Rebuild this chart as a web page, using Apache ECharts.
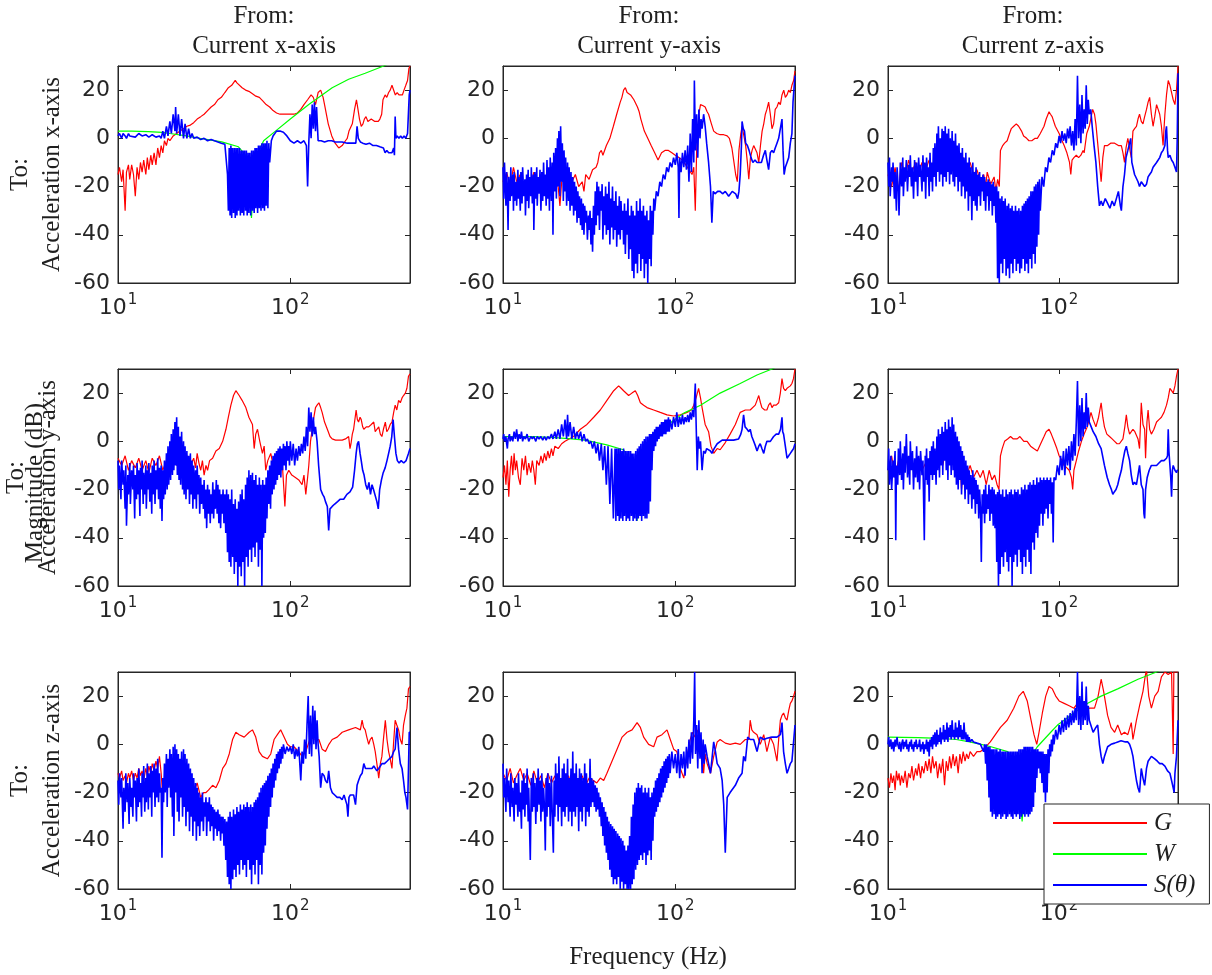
<!DOCTYPE html>
<html>
<head>
<meta charset="utf-8">
<script src="https://cdn.jsdelivr.net/npm/echarts@6/dist/echarts.min.js"></script>
<style>
html,body{margin:0;padding:0;background:#fff;}
#chart{width:1212px;height:975px;}
</style>
</head>
<body>
<div id="chart"></div>
<script>
// ---------- labels ----------
const colTitles = ['From:\nCurrent x-axis', 'From:\nCurrent y-axis', 'From:\nCurrent z-axis'];
const rowLabels = ['To:\nAcceleration x-axis', 'To:\nAcceleration y-axis', 'To:\nAcceleration z-axis'];
const seriesNames = ['G', 'W', 'S(\u03B8)'];
const yLabel = 'Magnitude (dB)';
const xLabel = 'Frequency (Hz)';
const freqMin = 10, freqMax = 495;
const dbMin = -60, dbMax = 30, dbStep = 20;

// ---------- data: [frequency Hz, magnitude dB] ----------
// Row 1, column 1
const g11 = [[10,-15],[10.2,-12],[10.5,-18],[10.7,-13],[11,-30],[11.2,-14],[11.5,-11],[11.7,-17],[12,-11],[12.3,-15],[12.6,-24],[12.9,-12],[13.2,-17],[13.5,-10],[13.8,-14],[14.1,-9],[14.5,-15],[14.8,-8],[15.1,-13],[15.5,-7],[15.8,-11],[16.2,-6],[16.6,-11],[17,-4],[17.4,-8],[17.8,-3],[18.2,-6],[18.6,-1],[19.1,-3],[19.5,0],[20,-1],[20.9,1],[21.9,2],[22.9,3],[24,4],[25.1,5],[26.3,5.5],[27.5,6.5],[28.8,8],[30.2,9],[31.6,10],[33.1,11.5],[34.7,13],[36.3,14],[38,16],[39.8,17],[41.7,19],[43.7,21],[45.7,22],[47.9,24],[49,23],[50.1,22.5],[52.5,21],[55,20],[57.5,19.5],[60.3,18.5],[63.1,17.5],[66.1,17],[69.2,15.5],[72.4,14],[75.9,13],[79.4,11.5],[83.2,10.5],[87.1,10],[91.2,10],[95.5,10],[100,10],[105,10],[110,10.5],[115,12],[120,14],[126,16],[132,18],[136,17],[140,14],[145,19],[150,20],[155,17],[158,14],[166,6],[174,1],[182,-2],[191,-4],[200,-3],[209,-1],[214,0],[219,3],[229,6],[236,12],[242,16],[247,12],[252,8],[258,5],[264,6],[269,8],[275,9],[282,7],[295,8],[309,7],[324,7],[331,8],[339,10],[345,16],[355,18],[363,17],[372,19],[380,20],[389,22],[398,22],[407,18],[417,19],[427,18],[437,18],[447,18],[457,20],[468,22],[479,24],[488,29],[495,30]];
const w11 = [[10,3],[12,3],[15,2.8],[18,2.5],[20,2],[25,1],[30,0],[40,-1.5],[50,-3.5],[55,-7],[58,-20],[59.5,-33],[61,-20],[64,-7],[70,-1],[82,3],[100,8],[128,14],[175,21],[218,24.5],[272,27],[348,30],[400,32]];
const s11 = [[10,1],[10.2,2],[10.5,0],[10.7,2],[11,1],[11.2,0],[11.5,2],[11.7,1],[12,1.5],[12.6,0.5],[13.2,2],[13.8,1],[14.5,1.5],[15.1,0.5],[15.8,1.5],[16.6,0.5],[17.4,1],[17.8,0],[18.2,3],[18.6,0],[19.1,5],[19.5,1],[20,7],[20.4,2],[20.9,10],[21.4,3],[21.6,13],[21.9,2],[22.4,10],[22.9,1],[23.4,8],[24,0],[24.5,6],[25.1,0],[25.7,4],[26.3,0],[26.9,2],[27.5,0],[28.8,0.5],[30.2,-0.5],[31.6,0],[33.1,-1],[34.7,-0.5],[36.3,-1],[38,-1.5],[39.8,-2],[41.7,-2.5],[42.7,-3],[43.2,-15],[43.7,-30],[44.2,-4],[44.7,-32],[45.2,-3],[45.7,-33],[46.2,-4],[46.8,-31],[47.3,-4],[47.9,-33],[48.4,-4],[49,-32],[49.5,-4],[50.1,-30],[50.7,-4],[51.3,-32],[51.9,-5],[52.5,-31],[53.1,-5],[53.7,-32],[54.3,-5],[55,-30],[55.6,-5],[56.2,-32],[56.9,-6],[57.5,-31],[58.2,-6],[58.9,-32],[59.6,-5],[60.3,-30],[61,-5],[61.7,-31],[62.4,-4],[63.1,-29],[63.8,-4],[64.6,-31],[65.3,-3],[66.1,-29],[66.8,-3],[67.6,-30],[68.4,-2],[69.2,-29],[70,-2],[70.8,-30],[71.6,-2],[72.4,-28],[73.2,-1],[74.1,-29],[75,-2],[75.9,-10],[77.6,-1],[79.4,1],[81.3,2],[83.2,3],[87.1,3],[91.2,2.5],[95.5,1],[100,-1],[105,-2],[110,-1],[115,-2],[120,-1],[124,-3],[126,-20],[128,-2],[130,10],[132,0],[134,14],[136,4],[138,15],[140,3],[142,13],[145,-1],[151,-1],[158,-1.5],[166,-1],[174,-1],[182,-1.5],[191,-1.5],[200,-1.5],[214,-2],[229,-2],[240,-2],[244,5],[248,0],[255,-1.5],[263,-2],[275,-2.5],[288,-2],[302,-3],[316,-3],[331,-3.5],[347,-4],[355,-6],[363,-5],[372,-6],[380,-5.5],[389,-6],[398,-4],[402,-7],[406,9],[410,0],[417,1],[427,0],[437,1],[447,0],[457,1],[468,0],[479,2],[490,18],[495,20]];

// Row 1, column 2
const g12 = [[10,-18],[10.5,-14],[11,-20],[11.5,-12],[12,-18],[12.6,-15],[13.2,-22],[13.8,-16],[14.5,-20],[15.1,-14],[15.8,-18],[16.6,-15],[17.4,-20],[18.2,-16],[19.1,-22],[20,-17],[20.9,-20],[21.4,-28],[21.9,-18],[22.9,-16],[24,-14],[25.1,-18],[26.3,-15],[27.5,-20],[28.8,-18],[29.5,-22],[30.2,-15],[31.6,-17],[33.1,-13],[34.7,-12],[35.5,-10],[36.3,-6],[37.2,-5],[38,-7],[39.8,-3],[41.7,0],[43.7,5],[45.7,10],[47.9,15],[49,17],[50.1,20],[51.3,21],[52.5,19],[53.7,19],[55,18],[56.2,17.5],[57.5,16],[60.3,13],[61.7,11],[63.1,8],[66.1,3],[69.2,0],[72.4,-3],[75.9,-6],[79.4,-9],[83.2,-6],[87.1,-5],[91.2,-5],[95.5,-6],[100,-7],[105,-8],[110,-9],[115,-11],[120,-13],[125,-15],[128,-12],[130.6,-30],[133,-5],[137,10],[140,14],[145,13.5],[149,13],[153,11],[156,10],[162,6],[167,3],[174,2],[182,1.5],[191,1.5],[200,1],[206,0],[213,-4],[219,-10],[224,-15],[229,-18],[234,-5],[240,2],[244,5],[250,1],[256,-3],[262,-10],[267,-17],[273,-8],[279,-5],[285,-3],[292,-3],[298,-6],[305,-10],[312,-3],[319,3],[326,6],[333,10],[340,12],[348,15],[356,10],[364,4],[372,6],[380,12],[389,13],[398,15],[407,14],[416,18],[426,20],[435,17],[445,18],[455,20],[465,19],[475,22],[486,24],[495,28]];
const s12 = [[10,-12],[10.1,-25],[10.2,-10],[10.4,-28],[10.5,-14],[10.6,-22],[10.7,-38],[10.8,-16],[11,-26],[11.1,-12],[11.2,-24],[11.4,-15],[11.5,-30],[11.6,-14],[11.7,-26],[11.9,-18],[12,-28],[12.2,-13],[12.3,-25],[12.4,-16],[12.6,-30],[12.7,-14],[12.9,-27],[13,-12],[13.2,-24],[13.4,-17],[13.5,-32],[13.7,-15],[13.8,-26],[14,-13],[14.1,-29],[14.3,-16],[14.5,-24],[14.6,-12],[14.8,-27],[15,-15],[15.1,-38],[15.3,-14],[15.5,-25],[15.7,-12],[15.8,-28],[16,-16],[16.2,-23],[16.4,-13],[16.6,-30],[16.8,-14],[17,-26],[17.2,-10],[17.4,-24],[17.6,-15],[17.8,-28],[18,-9],[18.2,-25],[18.4,-12],[18.6,-30],[18.8,-8],[19.1,-26],[19.3,-10],[19.5,-40],[19.7,-6],[20,-22],[20.2,-4],[20.4,-25],[20.7,0],[20.9,-20],[21.1,3],[21.4,-24],[21.6,5],[21.9,-18],[22.1,-2],[22.4,-26],[22.6,-5],[22.9,-22],[23.1,-8],[23.4,-28],[23.7,-10],[24,-26],[24.2,-12],[24.5,-30],[24.8,-14],[25.1,-28],[25.4,-16],[25.7,-32],[26,-18],[26.3,-30],[26.6,-20],[26.9,-35],[27.2,-22],[27.5,-33],[27.8,-24],[28.2,-36],[28.5,-25],[28.8,-38],[29.2,-27],[29.5,-40],[29.8,-28],[30.2,-35],[30.5,-30],[30.9,-42],[31.3,-32],[31.6,-38],[32,-30],[32.4,-44],[32.7,-33],[33.1,-47],[33.5,-28],[33.9,-40],[34.3,-22],[34.7,-36],[35.1,-18],[35.5,-32],[35.9,-20],[36.3,-38],[36.7,-22],[37.2,-30],[37.6,-19],[38,-42],[38.5,-24],[38.9,-36],[39.4,-20],[39.8,-40],[40.3,-23],[40.7,-38],[41.2,-18],[41.7,-44],[42.2,-25],[42.7,-37],[43.2,-20],[43.7,-42],[44.2,-26],[44.7,-38],[45.2,-22],[45.7,-45],[46.3,-28],[46.8,-40],[47.3,-24],[47.9,-42],[48.4,-26],[49,-38],[49.6,-30],[50.1,-44],[50.7,-27],[51.3,-48],[51.9,-30],[52.5,-40],[53.1,-25],[53.7,-50],[54.3,-32],[55,-46],[55.6,-28],[56.2,-55],[56.9,-30],[57.5,-58],[58.2,-32],[58.9,-52],[59.6,-26],[60.3,-56],[61,-30],[61.7,-48],[62.4,-25],[63.1,-55],[63.8,-30],[64.6,-50],[65.3,-28],[66.1,-58],[66.8,-32],[67.6,-52],[68.4,-30],[69.2,-60],[70,-34],[70.8,-50],[71.6,-28],[72.4,-53],[73.2,-30],[74.1,-40],[75,-25],[75.9,-30],[77.6,-22],[79.4,-24],[81.3,-18],[83.2,-20],[85.1,-15],[87.1,-17],[89.1,-12],[91.2,-14],[93.3,-10],[95.5,-12],[97.7,-8],[100,-11],[102,-6],[104,-12],[105,-33],[106,-8],[108,-14],[110,-6],[112,-12],[114,-5],[116,-13],[118,-3],[120,-18],[122,2],[124,-14],[126,8],[128,-10],[129,24],[131,-5],[133,10],[135,-8],[137,12],[139,0],[141,8],[143,4],[146,10],[149,5],[152,-2],[156,-10],[160,-20],[163,-35],[166,-22],[170,-23],[176,-22],[182,-22],[188,-23],[195,-22],[204,-24],[214,-22],[224,-23],[230,-25],[234,-22],[238,-15],[242,-3],[244,7],[248,4],[252,3],[256,-2],[262,-3],[268,-5],[275,-8],[282,-10],[290,-9],[298,-10],[306,-10],[316,-10],[325,-7],[333,-5],[340,-9],[348,-13],[356,-6],[364,-5],[372,-6],[380,-4],[389,-2],[398,0],[407,4],[416,8],[422,-5],[428,-15],[435,-12],[445,-10],[455,-8],[465,-2],[475,2],[482,15],[490,22],[495,26]];

// Row 1, column 3
const g13 = [[10,-15],[10.5,-20],[11,-12],[11.5,-22],[12,-10],[12.6,-16],[13.2,-9],[13.8,-14],[14.5,-10],[15.1,-15],[15.8,-10],[16.6,-13],[17.4,-9],[18.2,-12],[19.1,-8],[20,-11],[20.9,-5],[21.9,-10],[22.9,-4],[24,-9],[25.1,-6],[26.3,-10],[27.5,-8],[28.8,-12],[30.2,-10],[31.6,-15],[33.1,-13],[34.7,-18],[36.3,-15],[37.2,-20],[38,-14],[39.8,-19],[41.7,-16],[42.7,-22],[43.7,-17],[44.7,-20],[45.4,-5],[46.8,-3],[48,-2],[49.7,-1],[51.3,2],[52.5,4],[54.3,5],[56.2,6],[58,5],[60.3,3],[62,1],[64.6,0],[66.6,-1],[69.2,-1],[72.4,0],[74.6,0],[77.6,2],[81.6,5],[84,8],[87.3,11],[89,10],[91,9],[95,5],[100,2],[104,-1],[107,-3],[111,-6],[115,-10],[117,-15],[119,-9],[122,-8],[126,-7],[130,-8],[134,-7],[138,-5],[140,-6],[145,2],[150,5],[155,10],[157,12],[161,10],[164,6],[168,-2],[172,-10],[176,-18],[180,-8],[184,-3],[192,-3],[200,-2],[211,-2],[222,-3],[231,-3],[236,-6],[241,-10],[246,-4],[252,0],[258,-4],[264,-8],[270,3],[276,4],[283,5],[289,8],[295,10],[302,7],[309,6],[316,9],[324,12],[331,15],[338,17],[346,10],[354,5],[362,9],[371,14],[379,12],[387,10],[396,5],[405,-3],[410,4],[415,10],[424,18],[434,24],[444,22],[454,19],[464,16],[475,14],[485,20],[495,30]];
const s13 = [[10,-10],[10.1,-20],[10.2,-8],[10.3,-24],[10.5,-12],[10.6,-18],[10.7,-10],[10.9,-25],[11,-14],[11.2,-30],[11.3,-12],[11.5,-22],[11.6,-32],[11.8,-10],[12,-20],[12.2,-8],[12.3,-24],[12.5,-12],[12.6,-18],[12.8,-9],[13,-22],[13.2,-11],[13.4,-16],[13.5,-7],[13.7,-20],[13.9,-12],[14.1,-25],[14.3,-9],[14.5,-18],[14.7,-10],[14.9,-24],[15.1,-8],[15.3,-16],[15.5,-11],[15.8,-22],[16,-7],[16.2,-18],[16.4,-10],[16.6,-25],[16.8,-8],[17,-16],[17.2,-12],[17.4,-24],[17.6,-6],[17.8,-18],[18,-10],[18.2,-22],[18.4,-4],[18.6,-16],[18.8,-2],[19.1,-20],[19.3,2],[19.5,-14],[19.7,5],[20,-18],[20.2,0],[20.4,-15],[20.7,4],[20.9,-20],[21.1,3],[21.4,-16],[21.6,5],[21.9,-18],[22.1,2],[22.4,-14],[22.6,4],[22.9,-19],[23.1,0],[23.4,-15],[23.7,3],[24,-18],[24.2,-1],[24.5,-20],[24.8,2],[25.1,-16],[25.4,-3],[25.7,-22],[26,-2],[26.3,-18],[26.6,-6],[26.9,-24],[27.2,-4],[27.5,-20],[27.8,-8],[28.2,-25],[28.5,-6],[28.8,-22],[29.2,-10],[29.5,-30],[29.8,-8],[30.2,-24],[30.5,-12],[30.9,-34],[31.3,-10],[31.6,-26],[32,-14],[32.4,-28],[32.7,-12],[33.1,-30],[33.5,-15],[33.9,-24],[34.3,-14],[34.7,-28],[35.1,-16],[35.5,-22],[35.9,-15],[36.3,-26],[36.7,-16],[37.2,-30],[37.6,-18],[38,-24],[38.5,-17],[38.9,-30],[39.4,-18],[39.8,-26],[40.3,-19],[40.7,-32],[41.2,-18],[41.7,-28],[42.2,-20],[42.7,-35],[43.2,-20],[43.7,-58],[44.2,-22],[44.7,-60],[45.2,-25],[45.7,-52],[46.3,-24],[46.8,-56],[47.3,-26],[47.9,-50],[48.4,-25],[49,-57],[49.6,-28],[50.1,-54],[50.7,-27],[51.3,-58],[51.9,-29],[52.5,-52],[53.1,-28],[53.7,-56],[54.3,-30],[55,-50],[55.6,-28],[56.2,-55],[56.9,-30],[57.5,-52],[58.2,-29],[58.9,-56],[59.6,-30],[60.3,-54],[61,-28],[61.7,-50],[62.4,-27],[63.1,-55],[63.8,-26],[64.6,-52],[65.3,-25],[66.1,-56],[66.8,-24],[67.6,-50],[68.4,-22],[69.2,-54],[70,-22],[70.8,-48],[71.6,-20],[72.4,-52],[73.2,-19],[74.1,-45],[75,-18],[75.9,-40],[76.8,-17],[77.6,-30],[79.4,-16],[81.3,-20],[83.2,-12],[85.1,-14],[87.1,-8],[89.1,-10],[91.2,-5],[93.3,-7],[95.5,-2],[97.7,-4],[100,1],[102,-2],[104,3],[106,-1],[108,2],[110,-2],[112,4],[114,0],[116,5],[118,-3],[120,3],[122,-5],[124,8],[126,-3],[128,26],[130,0],[132,14],[134,-2],[136,18],[138,2],[140,12],[142,4],[144,22],[146,6],[148,16],[150,10],[153,12],[156,5],[160,-3],[164,-10],[168,-20],[172,-28],[176,-26],[180,-28],[186,-25],[192,-27],[198,-29],[204,-26],[210,-28],[216,-25],[222,-22],[228,-28],[231,-30],[236,-20],[241,-15],[246,-8],[252,-5],[258,-2],[262,0],[266,-10],[270,-12],[276,-15],[283,-15],[289,-18],[295,-20],[302,-18],[309,-18],[316,-20],[324,-19],[331,-16],[338,-15],[346,-14],[354,-12],[362,-12],[371,-10],[379,-9],[387,-8],[396,-6],[405,-5],[415,-3],[420,3],[424,5],[430,-5],[434,-8],[444,-7],[454,-9],[464,-10],[475,-12],[485,-14],[490,0],[495,27]];

// Row 2, column 1
const g21 = [[10,-7],[10.5,-10],[11,-6],[11.5,-12],[12,-8],[12.6,-11],[13.2,-7],[13.8,-12],[14.5,-8],[15.1,-13],[15.8,-7],[16.6,-10],[17.4,-6],[18.2,-12],[19.1,-8],[20,-11],[20.9,-7],[21.9,-10],[22.9,-5],[24,-9],[25.1,-6],[26.3,-10],[27.5,-7],[28.2,-11],[28.8,-5],[29.5,-9],[30.2,-12],[30.9,-8],[31.6,-14],[32.4,-10],[33.1,-12],[34,-8],[35.4,-7],[37,-4],[38.7,-3],[40.5,0],[42.3,5],[43.7,10],[45.2,15],[46.8,19],[48.3,21],[50.5,19],[52.5,17],[55.2,14],[57.5,10],[60.3,7],[61.7,-3],[63,3],[64.5,5],[66.5,0],[68.9,-5],[70.5,-2],[72,-12],[74,-8],[77,-5],[79.5,-10],[82.3,-8],[86,-12],[90,-10],[93,-27],[95,-14],[98,-12],[102,-14],[107,-15],[112,-16],[117,-18],[120,-14],[123,-22],[126,-15],[128,-10],[131,0],[134,5],[137,10],[140,14],[143,15],[146.5,16],[150,14],[153,12],[158,8],[164,5],[170,2],[175,1],[183,0.5],[191,0.5],[200,0.5],[209,1],[218,2],[222,-3],[225,-1],[229,3],[233,5],[237,9],[241,13],[245,9],[249,8],[254,10],[258,9],[263,6],[267,5],[276,6],[285,6],[295,7],[305,8],[311,4],[318,5],[326,6],[333,3],[340,2],[347,5],[356,8],[363,4],[371,5],[380,7],[389,8],[398,12],[406,15],[415,13],[425,17],[435,16],[445,18],[454,19],[465,20],[475,22],[485,27],[495,28]];
const s21 = [[10,-8],[10.1,-20],[10.2,-10],[10.4,-24],[10.5,-8],[10.7,-18],[10.8,-12],[11,-28],[11.1,-10],[11.2,-35],[11.4,-14],[11.5,-22],[11.7,-9],[11.8,-26],[12,-12],[12.2,-20],[12.3,-10],[12.5,-32],[12.6,-14],[12.8,-24],[12.9,-9],[13.1,-22],[13.2,-12],[13.4,-31],[13.5,-11],[13.7,-20],[13.8,-8],[14,-26],[14.1,-13],[14.3,-22],[14.5,-10],[14.6,-28],[14.8,-12],[15,-20],[15.1,-9],[15.3,-25],[15.5,-13],[15.7,-30],[15.8,-10],[16,-22],[16.2,-8],[16.4,-26],[16.6,-12],[16.8,-20],[17,-7],[17.2,-24],[17.4,-11],[17.6,-28],[17.8,-10],[18,-33],[18.2,-12],[18.4,-24],[18.6,-8],[18.8,-22],[19.1,-5],[19.3,-20],[19.5,-2],[19.7,-18],[20,0],[20.2,-16],[20.4,3],[20.7,-14],[20.9,5],[21.1,-12],[21.4,8],[21.6,-10],[21.9,10],[22.1,-14],[22.4,6],[22.6,-16],[22.9,2],[23.1,-18],[23.4,4],[23.7,-20],[24,0],[24.2,-22],[24.5,-2],[24.8,-24],[25.1,-4],[25.4,-20],[25.7,-6],[26,-26],[26.3,-5],[26.6,-22],[26.9,-8],[27.2,-28],[27.5,-10],[27.8,-24],[28.2,-12],[28.5,-28],[28.8,-10],[29.2,-22],[29.5,-14],[29.8,-30],[30.2,-15],[30.5,-26],[30.9,-18],[31.3,-28],[31.6,-16],[32,-32],[32.4,-20],[32.7,-36],[33.1,-18],[33.5,-30],[33.9,-20],[34.3,-34],[34.7,-22],[35.1,-30],[35.5,-17],[35.9,-32],[36.3,-20],[36.7,-28],[37.2,-16],[37.6,-30],[38,-18],[38.5,-34],[38.9,-20],[39.4,-36],[39.8,-22],[40.3,-30],[40.7,-20],[41.2,-34],[41.7,-22],[42.2,-38],[42.7,-20],[43.2,-46],[43.7,-22],[44.2,-50],[44.7,-24],[45.2,-52],[45.7,-20],[46.3,-48],[46.8,-26],[47.3,-55],[47.9,-24],[48.4,-50],[49,-28],[49.6,-60],[50.1,-25],[50.7,-52],[51.3,-22],[51.9,-56],[52.5,-20],[53.1,-50],[53.7,-24],[54.3,-60],[55,-18],[55.6,-48],[56.2,-15],[56.9,-52],[57.5,-12],[58.2,-45],[58.9,-14],[59.6,-50],[60.3,-13],[61,-44],[61.7,-16],[62.4,-48],[63.1,-14],[63.8,-42],[64.6,-18],[65.3,-52],[66.1,-15],[66.8,-45],[67.6,-18],[68.4,-60],[69.2,-16],[70,-40],[70.8,-18],[71.6,-38],[72.4,-15],[73.2,-32],[74.1,-12],[75,-26],[75.9,-10],[76.8,-28],[77.6,-8],[78.5,-22],[79.4,-6],[80.4,-20],[81.3,-5],[82.2,-18],[83.2,-4],[84.1,-16],[85.1,-3],[86.1,-14],[87.1,-2],[88.1,-15],[89.1,-3],[90.2,-12],[91.2,-1],[92.3,-10],[93.3,-2],[94.4,-12],[95.5,0],[96.6,-8],[97.7,-2],[98.9,-10],[100,0],[102,-8],[104,-1],[106,-10],[108,-3],[110,-8],[112,-2],[114,-6],[116,-1],[118,-5],[120,2],[122,-4],[124,6],[126,-2],[128,14],[130,4],[132,12],[134,2],[136,10],[138,3],[140,6],[143,0],[146,-10],[150,-20],[154,-22],[157,-23],[160,-25],[164,-27],[167,-37],[170,-28],[175,-27],[181,-26],[188,-25],[195,-24],[204,-24],[213,-22],[222,-21],[230,-19],[236,-12],[241,-5],[245,-1],[249,0],[254,-5],[258,-8],[263,-12],[268,-14],[274,-18],[280,-20],[286,-17],[292,-22],[298,-18],[304,-20],[310,-20],[318,-25],[324,-28],[330,-20],[338,-16],[346,-13],[355,-11],[364,-8],[372,-5],[380,-2],[388,2],[395,9],[402,2],[410,-5],[418,-8],[428,-9],[440,-8],[455,-9],[470,-8],[485,-5],[495,-3]];

// Row 2, column 2
const g22 = [[10,-15],[10.2,-10],[10.4,-18],[10.6,-8],[10.8,-23],[11,-12],[11.2,-6],[11.4,-14],[11.6,-5],[11.8,-12],[12,-8],[12.3,-15],[12.6,-18],[12.9,-7],[13.2,-12],[13.5,-6],[13.8,-14],[14.1,-9],[14.5,-13],[14.8,-8],[15.1,-12],[15.4,-18],[15.7,-8],[16.2,-10],[16.6,-6],[17,-9],[17.4,-5],[17.8,-8],[18.2,-4],[18.6,-7],[19.1,-3],[19.5,-6],[20,-2],[20.9,-3],[21.9,-1],[22.9,0],[23.5,0],[25.7,2],[28.1,5],[30.7,7],[33.6,10],[36.7,13],[40.1,17],[43.9,21],[46.9,23],[48.5,22],[50.1,21],[53.6,19],[56,20],[58.6,21],[60.5,19],[62.7,16],[65.5,15],[68.5,14],[74.9,13],[81.8,12],[89.5,11],[97.8,10.5],[107,11],[117,12],[124,13],[128,15],[132,18],[136.5,22],[140,18],[143,14],[149,7],[156,4],[161,-2],[167,-5],[175,-3],[182,-3.5],[195,-0.5],[208,3],[223,7],[238,12],[255,13],[272,13],[291,15],[298,17],[305,19],[312,16],[318,14],[330,13],[340,13],[348,15],[356,16],[364,14],[372,15],[385,15],[398,16],[407,20],[416,26],[425,22],[435,21],[445,22],[455,22],[465,23],[475,24],[485,26],[495,30]];
const w22 = [[10,2],[15,2],[20,1.5],[25,1],[30,0.5],[40,-1.5],[50,-3.5],[55,-8],[58,-20],[60,-33],[62,-20],[65,-8],[70,-2],[80,3],[95,8],[112,11.7],[140,15],[182,20],[238,24],[298,27.5],[364,30],[420,32]];
const s22 = [[10,1],[10.1,3],[10.2,0],[10.4,2],[10.5,-1],[10.6,-3],[10.7,1],[10.9,3],[11,0],[11.2,2],[11.4,0],[11.6,4],[11.8,1],[12,5],[12.2,0],[12.4,3],[12.6,1],[12.8,4],[13,0],[13.2,2],[13.5,1],[13.8,3],[14.1,0],[14.5,2],[14.8,1],[15.1,2],[15.5,0],[15.8,2],[16.2,1],[16.6,2],[17,0.5],[17.4,2],[17.8,0.5],[18.2,2],[18.6,1],[19.1,3],[19.5,1],[20,4],[20.4,1],[20.9,5],[21.4,1],[21.9,7],[22.4,2],[22.9,9],[23.4,1],[23.7,11],[24,2],[24.5,8],[25.1,1],[25.7,6],[26.3,1],[26.9,4],[27.5,1],[28.2,4],[28.8,0],[29.5,3],[30.2,0],[30.9,1],[31.6,-1],[32.4,0],[33.1,-3],[33.9,0],[34.7,-5],[35.5,-1],[36.3,-8],[37.2,-1],[38,-12],[38.9,-2],[39.8,-18],[40.7,-2],[41.7,-26],[42.7,-3],[43.7,-32],[44.7,-3],[45.2,-33],[45.7,-3],[46.3,-31],[46.8,-3],[47.3,-33],[47.9,-3],[48.4,-32],[49,-4],[49.6,-33],[50.1,-3],[50.7,-31],[51.3,-4],[51.9,-33],[52.5,-4],[53.1,-32],[53.7,-4],[54.3,-33],[55,-4],[55.6,-31],[56.2,-5],[56.9,-33],[57.5,-5],[58.2,-32],[58.9,-4],[59.6,-33],[60.3,-3],[61,-32],[61.7,-2],[62.4,-31],[63.1,-1],[63.8,-33],[64.6,0],[65.3,-31],[66.1,1],[66.8,-32],[67.6,2],[68.4,-32],[69.2,2],[70,-30],[70.8,3],[71.6,-25],[72.4,3],[73.2,-12],[74.1,4],[75,-4],[75.9,5],[76.8,-2],[77.6,6],[78.5,0],[79.4,6],[80.4,1],[81.3,7],[82.2,2],[83.2,8],[84.1,2],[85.1,8],[86.1,3],[87.1,9],[88.1,3],[89.1,9],[90.2,4],[91.2,10],[92.3,4],[93.3,9],[95.5,5],[97.7,10],[100,6],[102,12],[104,6],[106,10],[108,7],[110,11],[112,7],[114,10],[116,8],[118,11],[120,8],[122,12],[124,9],[126,13],[128,10],[130.6,24],[132,8],[134,-12],[136,2],[138,-3],[140,0],[143,-12],[146,-4],[149,-5],[152,-3],[156,-3],[160,-4],[163,-5],[168,-3],[175,-1],[187,0.5],[200,0.5],[218,0.5],[233,1],[240,3],[244,5],[249,11],[254,6],[261,5],[267,4],[272,5],[278,2],[285,0],[292,-2],[298,-4],[305,-2],[311,-1],[318,-3],[326,-5],[333,-2],[340,0],[356,0],[372,2],[385,3],[398,3],[408,5],[416,10],[420,4],[425,3],[435,-2],[445,-7],[455,-6],[465,-5],[475,-4],[486,-3],[495,-1]];

// Row 2, column 3
const g23 = [[10,-12],[10.5,-6],[11,-15],[11.5,-8],[12,-13],[12.6,-5],[13.2,-12],[13.8,-8],[14.5,-14],[15.1,-7],[15.8,-12],[16.6,-9],[17.4,-15],[18.2,-6],[19.1,-12],[20,-4],[20.9,-10],[21.9,-2],[22.9,-8],[24,-5],[25.1,-12],[26.3,-8],[26.9,-20],[27.5,-10],[28.8,-14],[30.2,-10],[31.6,-15],[33.1,-12],[34.6,-15],[36,-12],[37.5,-18],[39,-12],[40.5,-16],[42,-14],[43.4,-18],[44.5,-20],[45.4,-6],[46.5,-3],[48,0],[50,1],[52,2],[54,1],[56.9,1],[59,2],[62.2,0],[65,0],[68.1,-2],[71,-3],[74.6,-4],[78,-1],[81.6,2],[84,4],[87.3,5],[90,3],[93.5,0],[97,-3],[100,-6],[104,-8],[107,-10],[111,-11],[114.5,-12],[118,-15],[120,-20],[122,-12],[126,-8],[130,-4],[135,0],[140,3],[146,6],[150,9],[153.5,12],[158,9],[164,6],[170,10],[176,16],[180,10],[184,6],[190,3],[197,2],[204,1],[211,0],[218,-1],[225,-1],[236,1],[242,6],[247,11],[252,6],[258,3],[264,4],[270,5],[277,4],[283,4],[289,1],[295,-3],[298,5],[302,16],[309,7],[316,5],[320,-7],[326,8],[331,13],[338,5],[346,3],[358,5],[371,8],[383,9],[396,10],[410,12],[424,15],[434,18],[444,22],[454,21],[464,20],[475,23],[485,27],[495,30]];
const s23 = [[10,-12],[10.1,-3],[10.2,-18],[10.4,-6],[10.5,-20],[10.7,-8],[10.8,-15],[11,-4],[11.1,-41],[11.2,-10],[11.4,-18],[11.5,-3],[11.7,-14],[11.8,0],[12,-16],[12.2,-5],[12.3,-20],[12.5,-2],[12.6,-13],[12.8,3],[13,-15],[13.2,-6],[13.4,-18],[13.5,0],[13.7,-12],[13.9,-4],[14.1,-20],[14.3,-7],[14.5,-15],[14.7,-2],[14.9,-17],[15.1,-6],[15.3,-20],[15.5,-4],[15.8,-14],[16,-8],[16.3,-41],[16.5,-6],[16.6,-16],[16.8,-3],[17,-18],[17.2,-7],[17.4,-25],[17.6,-4],[17.8,-14],[18,-2],[18.2,-16],[18.4,0],[18.6,-14],[18.8,-3],[19.1,-18],[19.3,2],[19.5,-12],[19.7,5],[20,-15],[20.2,3],[20.4,-10],[20.7,6],[20.9,-14],[21.1,4],[21.4,-8],[21.6,8],[21.9,-12],[22.1,5],[22.4,-16],[22.6,9],[22.9,-10],[23.1,6],[23.4,-14],[23.7,10],[24,-12],[24.2,7],[24.5,-15],[24.8,4],[25.1,-18],[25.4,2],[25.7,-20],[26,0],[26.3,-16],[26.6,-2],[26.9,-22],[27.2,-4],[27.5,-18],[27.8,-6],[28.2,-24],[28.5,-8],[28.8,-20],[29.2,-10],[29.5,-26],[29.8,-12],[30.2,-22],[30.5,-14],[30.9,-28],[31.3,-12],[31.6,-24],[32,-15],[32.4,-30],[32.7,-16],[33.1,-26],[33.5,-18],[33.9,-32],[34.3,-20],[34.7,-28],[35.1,-50],[35.5,-22],[35.9,-30],[36.3,-20],[36.7,-34],[37.2,-18],[37.6,-30],[38,-22],[38.5,-28],[38.9,-18],[39.4,-33],[39.8,-20],[40.3,-30],[40.7,-19],[41.2,-35],[41.7,-20],[42.2,-36],[42.7,-22],[43.2,-50],[43.7,-21],[44.2,-60],[44.7,-20],[45.2,-55],[45.7,-22],[46.3,-48],[46.8,-20],[47.3,-52],[47.9,-23],[48.4,-46],[49,-20],[49.6,-50],[50.1,-22],[50.7,-54],[51.3,-21],[51.9,-48],[52.5,-20],[53.1,-60],[53.7,-22],[54.3,-50],[55,-20],[55.6,-47],[56.2,-21],[56.9,-52],[57.5,-20],[58.2,-45],[58.9,-22],[59.6,-50],[60.3,-19],[61,-55],[61.7,-20],[62.4,-48],[63.1,-18],[63.8,-52],[64.6,-20],[65.3,-45],[66.1,-18],[66.8,-50],[67.6,-17],[68.4,-55],[69.2,-18],[70,-42],[70.8,-16],[71.6,-45],[72.4,-18],[73.2,-38],[74.1,-15],[75,-40],[75.9,-17],[76.8,-35],[77.6,-15],[78.5,-30],[79.4,-16],[80.4,-35],[81.3,-15],[82.2,-30],[83.2,-16],[84.1,-28],[85.1,-15],[86.1,-32],[87.1,-16],[88.1,-26],[89.1,-15],[90.2,-30],[91.2,-17],[92.3,-42],[93.3,-15],[95.5,-16],[97.7,-10],[100,-14],[102,-6],[104,-12],[106,-4],[108,-14],[110,-3],[112,-10],[114,-2],[116,-12],[118,0],[120,-8],[122,3],[124,-6],[126,8],[128,25],[130,-2],[132,15],[134,0],[136,18],[138,2],[140,12],[142,5],[144,20],[146,6],[148,14],[150,8],[154,6],[158,4],[164,2],[170,-1],[176,-3],[184,-10],[191,-15],[197,-18],[202,-20],[206,-22],[210,-21],[215,-20],[220,-18],[225,-15],[231,-12],[236,-8],[242,-4],[247,-2],[252,-5],[258,-8],[264,-14],[270,-18],[276,-17],[283,-18],[289,-14],[295,-10],[302,-18],[309,-20],[313,-30],[316,-32],[320,-20],[327,-15],[336,-12],[346,-10],[358,-10],[371,-10],[383,-9],[396,-8],[410,-8],[424,-7],[430,-6],[434,5],[438,-4],[444,-10],[449,-15],[454,-23],[459,-12],[464,-10],[475,-12],[485,-13],[490,-12],[495,-12]];

// Row 3, column 1
const g31 = [[10,-12],[10.2,-14],[10.5,-11],[10.7,-15],[11,-13],[11.2,-16],[11.5,-12],[11.7,-14],[12,-11],[12.3,-15],[12.6,-12],[12.9,-14],[13.2,-10],[13.5,-13],[13.8,-11],[14.1,-15],[14.5,-10],[14.8,-13],[15.1,-9],[15.5,-12],[15.8,-8],[16.2,-11],[16.6,-7],[17,-10],[17.4,-5],[17.8,-12],[18.2,-22],[18.6,-14],[19.1,-10],[19.5,-15],[20,-11],[20.9,-16],[21.9,-12],[22.9,-18],[24,-14],[25.1,-19],[26.3,-15],[27.5,-20],[28.8,-16],[30.2,-22],[31.4,-20],[32.4,-20],[33.5,-19],[35.4,-17],[37,-18],[38.7,-15],[40.5,-10],[42.3,-8],[44.2,-4],[46.2,2],[48.3,5],[50.5,4],[54,3],[57.7,5],[60.3,6],[63,3],[65.9,-3],[68.9,-5],[73.6,-6],[77,-4],[80.5,2],[84.1,4],[87.9,6],[92,3],[96.2,0],[100,-1],[105,-1],[112,-3],[117,-5],[123,-3],[131,3],[140,2],[146.5,2],[153,-2],[160,-3],[167.5,0],[175,2],[187,3],[200,5],[218,6],[239,7],[255,6],[261,10],[266,7],[272,6],[278,3],[285,0],[291,2],[298,3],[305,0],[311,-3],[318,-8],[326,-14],[333,-8],[340,-5],[348,3],[356,10],[364,2],[372,-3],[380,-6],[389,-10],[397,0],[406,10],[415,8],[425,6],[435,2],[445,0],[454,8],[465,12],[475,15],[485,23],[495,24]];
const s31 = [[10,-15],[10.1,-25],[10.2,-12],[10.4,-22],[10.5,-14],[10.7,-35],[10.8,-18],[11,-28],[11.1,-12],[11.3,-24],[11.4,-16],[11.6,-33],[11.7,-14],[11.9,-26],[12,-18],[12.2,-30],[12.3,-12],[12.5,-22],[12.6,-15],[12.8,-32],[12.9,-14],[13.1,-26],[13.2,-10],[13.4,-24],[13.5,-16],[13.7,-30],[13.8,-12],[14,-22],[14.1,-9],[14.3,-28],[14.5,-14],[14.6,-24],[14.8,-8],[15,-27],[15.1,-12],[15.3,-22],[15.5,-9],[15.7,-30],[15.8,-11],[16,-20],[16.2,-8],[16.4,-26],[16.6,-10],[16.8,-22],[17,-6],[17.2,-24],[17.4,-12],[17.6,-20],[17.8,-18],[18,-47],[18.2,-14],[18.4,-24],[18.6,-8],[18.8,-20],[19.1,-4],[19.3,-26],[19.5,-6],[19.7,-18],[20,-2],[20.2,-22],[20.4,-4],[20.7,-30],[20.9,-1],[21.1,-38],[21.4,0],[21.6,-20],[21.9,-2],[22.1,-28],[22.4,-4],[22.6,-32],[22.9,-6],[23.1,-22],[23.4,-3],[23.7,-30],[24,-2],[24.2,-26],[24.5,-4],[24.8,-34],[25.1,-6],[25.4,-28],[25.7,-8],[26,-36],[26.3,-10],[26.6,-30],[26.9,-12],[27.2,-38],[27.5,-14],[27.8,-32],[28.2,-16],[28.5,-40],[28.8,-18],[29.2,-34],[29.5,-20],[29.8,-38],[30.2,-22],[30.5,-32],[30.9,-20],[31.3,-36],[31.6,-24],[32,-30],[32.4,-22],[32.7,-38],[33.1,-24],[33.5,-32],[33.9,-22],[34.3,-36],[34.7,-25],[35.1,-34],[35.5,-26],[35.9,-40],[36.3,-27],[36.7,-35],[37.2,-28],[37.6,-38],[38,-27],[38.5,-36],[38.9,-29],[39.4,-40],[39.8,-30],[40.3,-37],[40.7,-30],[41.2,-42],[41.7,-31],[42.2,-48],[42.7,-32],[43.2,-55],[43.7,-30],[44.2,-58],[44.7,-28],[45.2,-60],[45.7,-30],[46.3,-56],[46.8,-27],[47.3,-52],[47.9,-29],[48.4,-55],[49,-26],[49.6,-50],[50.1,-28],[50.7,-54],[51.3,-25],[51.9,-48],[52.5,-27],[53.1,-52],[53.7,-25],[54.3,-50],[55,-26],[55.6,-55],[56.2,-24],[56.9,-48],[57.5,-26],[58.2,-52],[58.9,-25],[59.6,-58],[60.3,-26],[61,-50],[61.7,-24],[62.4,-54],[63.1,-23],[63.8,-48],[64.6,-22],[65.3,-58],[66.1,-20],[66.8,-50],[67.6,-18],[68.4,-54],[69.2,-17],[70,-45],[70.8,-16],[71.6,-42],[72.4,-15],[73.2,-35],[74.1,-13],[75,-30],[75.9,-12],[76.8,-26],[77.6,-10],[78.5,-22],[79.4,-8],[80.4,-18],[81.3,-6],[82.2,-15],[83.2,-4],[84.1,-12],[85.1,-3],[86.1,-10],[87.1,-2],[88.1,-8],[89.1,-1],[90.2,-6],[91.2,0],[93.3,-4],[95.5,-1],[97.7,-3],[100,-1],[102,-4],[104,0],[106,-6],[108,-2],[110,-5],[112,-1],[115,-15],[117,-3],[119,-8],[121,2],[123,-6],[125,8],[127,20],[129,-4],[131,12],[133,-5],[135,16],[137,0],[139,14],[141,-2],[143,10],[145,0],[147,-5],[150,-18],[153,-12],[157,-13],[160,-15],[164,-16],[167,-11],[171,-18],[175,-20],[181,-21],[187,-22],[194,-22],[200,-23],[205,-21],[209,-21],[213,-25],[216,-30],[219,-22],[223,-21],[228,-21],[233,-21],[239,-25],[244,-17],[249,-15],[255,-13],[261,-12],[267,-8],[273,-10],[279,-10],[288,-10],[298,-10],[305,-9],[311,-9],[318,-11],[326,-10],[333,-9],[340,-8],[352,-8],[364,-7],[376,-6],[389,-5],[398,-3],[406,-2],[411,3],[416,7],[420,3],[425,-2],[435,-8],[445,-10],[454,-15],[462,-20],[469,-22],[475,-25],[479,-27],[485,-10],[490,5],[495,5]];

// Row 3, column 2
const g32 = [[10,-12],[10.5,-15],[11,-10],[11.5,-16],[12,-13],[12.6,-10],[13.2,-15],[13.8,-12],[14.5,-17],[15.1,-11],[15.8,-16],[16.6,-13],[17.4,-18],[18.2,-12],[19.1,-16],[20,-13],[20.9,-18],[21.9,-14],[22.9,-17],[24,-13],[25.1,-18],[26.3,-14],[27.5,-16],[28.8,-13],[30.2,-17],[31.6,-14],[33.5,-15],[35,-16],[36.7,-14],[38.4,-15],[40.1,-12],[42.9,-7],[45.9,-2],[49.1,3],[52.5,5],[56.1,6],[60,9],[62.7,7],[65.5,3],[70,0],[74.9,-1],[78.3,3],[83.7,4],[89.5,6],[93.5,2],[97.8,-2],[102,-3],[107,-10],[112,-14],[117,-5],[122,2],[126,5],[130,3],[134,6],[138,2],[143,-3],[146,-12],[149,-4],[153,-8],[160,-12],[167,-5],[175,1],[182,2],[195,0.5],[208,0],[223,0.5],[238,0],[255,2],[267,2],[272,10],[278,6],[285,5],[298,4],[311,0],[326,4],[340,-3],[356,3],[372,0],[389,-7],[398,2],[407,10],[416,12],[425,13],[435,11],[445,10],[455,14],[465,17],[475,18],[486,20],[495,22]];
const s32 = [[10,-8],[10.1,-22],[10.2,-14],[10.4,-28],[10.5,-10],[10.7,-24],[10.8,-15],[11,-30],[11.1,-12],[11.3,-26],[11.4,-18],[11.6,-32],[11.7,-14],[11.9,-25],[12,-16],[12.2,-30],[12.3,-12],[12.5,-28],[12.6,-20],[12.8,-35],[12.9,-15],[13.1,-27],[13.2,-12],[13.4,-30],[13.5,-16],[13.7,-25],[13.8,-10],[14,-32],[14.1,-18],[14.4,-48],[14.6,-14],[14.8,-28],[15,-12],[15.1,-26],[15.3,-16],[15.5,-33],[15.7,-14],[15.8,-28],[16,-10],[16.2,-25],[16.4,-15],[16.6,-32],[16.8,-12],[17,-28],[17.2,-18],[17.4,-26],[17.6,-44],[17.8,-14],[18,-30],[18.2,-12],[18.4,-26],[18.6,-16],[18.8,-34],[19.1,-13],[19.3,-28],[19.6,-45],[19.8,-15],[20,-30],[20.2,-8],[20.4,-25],[20.7,-12],[20.9,-32],[21.1,-5],[21.4,-26],[21.6,-14],[21.9,-34],[22.1,-10],[22.4,-28],[22.6,-8],[22.9,-30],[23.1,-12],[23.4,-26],[23.7,-6],[24,-32],[24.2,-14],[24.5,-28],[24.8,-10],[25.1,-34],[25.4,-3],[25.7,-28],[26,-12],[26.3,-30],[26.6,-8],[26.9,-26],[27.2,-14],[27.5,-36],[27.8,-10],[28.2,-28],[28.5,-12],[28.8,-32],[29.2,-14],[29.5,-26],[29.8,-8],[30.2,-34],[30.5,-12],[30.9,-28],[31.3,-16],[31.6,-30],[32,-6],[32.4,-26],[32.7,-14],[33.1,-24],[33.5,-15],[33.9,-26],[34.3,-17],[34.7,-28],[35.1,-18],[35.5,-27],[35.9,-20],[36.3,-30],[36.7,-22],[37.2,-34],[37.6,-24],[38,-38],[38.5,-26],[38.9,-42],[39.4,-28],[39.8,-45],[40.3,-30],[40.7,-48],[41.2,-32],[41.7,-52],[42.2,-33],[42.7,-55],[43.2,-34],[43.7,-58],[44.2,-35],[44.7,-56],[45.2,-36],[45.7,-58],[46.3,-37],[46.8,-55],[47.3,-38],[47.9,-60],[48.4,-39],[49,-57],[49.6,-40],[50.1,-60],[50.7,-42],[51.3,-58],[51.9,-44],[52.5,-60],[53.1,-42],[53.7,-60],[54.3,-38],[55,-60],[55.6,-30],[56.2,-58],[56.9,-25],[57.5,-56],[58.2,-20],[58.9,-52],[59.6,-18],[60.3,-50],[61,-16],[61.7,-48],[62.4,-18],[63.1,-46],[63.8,-17],[64.6,-48],[65.3,-20],[66.1,-45],[66.8,-18],[67.6,-50],[68.4,-20],[69.2,-46],[70,-18],[70.8,-44],[71.6,-22],[72.4,-48],[73.2,-20],[74.1,-40],[75,-18],[75.9,-30],[76.8,-15],[77.6,-28],[78.5,-14],[79.4,-26],[80.4,-12],[81.3,-24],[82.2,-10],[83.2,-22],[84.1,-9],[85.1,-20],[86.1,-7],[87.1,-18],[88.1,-6],[89.1,-16],[90.2,-5],[91.2,-14],[92.3,-4],[93.3,-12],[95.5,-3],[97.7,-10],[100,-4],[102,-12],[104,-2],[106,-14],[108,-4],[110,-10],[112,-3],[114,-13],[116,-1],[118,-10],[120,2],[122,-8],[124,5],[126,-6],[128,10],[129.5,30],[131,-4],[133,8],[135,-10],[137,10],[139,-6],[141,5],[143,-12],[145,2],[147,-8],[149,0],[153,-5],[160,-12],[167,1],[171,-3],[175,-8],[182,-10],[187,-15],[191,-25],[195,-45],[200,-22],[208,-20],[223,-17],[233,-14],[244,-12],[249,-5],[255,-7],[263,3],[272,2],[285,2],[298,-3],[311,3],[326,2],[340,2.5],[364,3],[389,3],[407,4],[416,9],[425,-3],[435,-8],[445,-12],[455,-10],[465,-8],[475,-7],[486,-7],[495,8]];

// Row 3, column 3
const g33 = [[10,-14],[10.2,-18],[10.4,-12],[10.6,-16],[10.8,-13],[11,-19],[11.2,-11],[11.4,-15],[11.6,-12],[11.8,-17],[12,-13],[12.3,-16],[12.6,-11],[12.9,-18],[13.2,-12],[13.5,-14],[13.8,-9],[14.1,-15],[14.5,-10],[14.8,-13],[15.1,-8],[15.5,-14],[15.8,-9],[16.2,-12],[16.6,-7],[17,-11],[17.4,-6],[17.8,-12],[18.2,-5],[18.6,-10],[19.1,-7],[19.5,-14],[20,-8],[20.4,-12],[20.9,-6],[21.4,-17],[21.9,-7],[22.4,-11],[22.9,-5],[23.4,-10],[24,-4],[24.5,-9],[25.1,-5],[25.7,-12],[26.3,-4],[26.9,-8],[27.5,-3],[28.2,-7],[28.8,-4],[29.5,-6],[30.2,-3],[31.6,-5],[33.1,-3],[34.7,-3],[36.2,-2],[39.6,1],[42.4,4],[45.4,7],[49.7,10],[54.3,15],[58.2,20],[61.7,22],[65.1,18],[68.1,11],[71.3,4],[74,0],[76.3,5],[79.8,13],[83.5,20],[87.3,24],[91.3,23],[95.5,20],[100,18],[107,17],[114.5,16],[122,15],[128,17],[135,15],[142,14],[150,15],[161,15],[169,20],[176,27],[182,22],[192,12],[201,7],[211,5],[220,8],[231,4],[241,5],[252,4],[264,9],[270,2],[283,10],[295,16],[309,22],[318,28],[324,31],[334,20],[346,15],[362,20],[379,22],[396,28],[415,30],[434,29],[454,30],[460,30],[464,-4],[468,30],[485,30],[495,30]];
const w33 = [[10,3],[15,2.8],[20,2.5],[25,2],[30,1],[35,0],[40,-1],[50,-3],[55,-7],[58,-15],[60.8,-32],[63,-15],[67,-6],[74.6,-1],[81.6,2],[89.3,5],[97.8,8],[107,10],[122,13],[147,17],[176,20],[220,23],[289,27],[371,30],[420,32]];
const s33 = [[10,0],[10.1,3],[10.2,-1],[10.4,2],[10.5,-2],[10.7,1],[10.8,-3],[11,2],[11.1,-1],[11.3,3],[11.4,0],[11.6,-2],[11.7,1],[11.9,-3],[12,0],[12.2,2],[12.3,-2],[12.5,1],[12.6,-1],[12.8,2],[12.9,-2],[13.1,0],[13.2,-3],[13.4,1],[13.5,-1],[13.7,2],[13.8,-2],[14,0],[14.1,-3],[14.3,1],[14.5,-1],[14.6,2],[14.8,-2],[15,0],[15.1,-1],[15.3,2],[15.5,-3],[15.7,0],[15.8,-2],[16,1],[16.2,-4],[16.4,0],[16.6,-2],[16.8,2],[17,-3],[17.2,1],[17.4,-5],[17.6,2],[17.8,-1],[18,3],[18.2,-2],[18.4,4],[18.6,0],[18.8,5],[19.1,-1],[19.3,6],[19.5,0],[19.7,4],[20,1],[20.2,7],[20.4,0],[20.7,5],[20.9,2],[21.1,8],[21.4,1],[21.6,6],[21.9,2],[22.1,9],[22.4,1],[22.6,7],[22.9,3],[23.1,8],[23.4,2],[23.7,10],[24,3],[24.2,6],[24.5,2],[24.8,9],[25.1,3],[25.4,7],[25.7,2],[26,10],[26.3,3],[26.6,8],[26.9,2],[27.2,6],[27.5,2],[27.8,9],[28.2,2],[28.5,5],[28.8,1],[29.2,4],[29.5,1],[29.8,3],[30.2,1],[30.9,2],[31.6,1],[32.4,1.5],[33.1,0.5],[33.9,1],[34.7,0],[35.5,0.5],[36.2,-3],[36.7,0],[37.2,-8],[37.6,0],[38,-15],[38.5,-1],[38.9,-22],[39.4,-1],[39.8,-28],[40.3,-2],[40.7,-30],[41.2,-2],[41.7,-29],[42.2,-2],[42.7,-31],[43.2,-2],[43.7,-30],[44.2,-3],[44.7,-29],[45.2,-2],[45.7,-31],[46.3,-3],[46.8,-30],[47.3,-3],[47.9,-29],[48.4,-3],[49,-31],[49.6,-3],[50.1,-30],[50.7,-3],[51.3,-29],[51.9,-3],[52.5,-30],[53.1,-3],[53.7,-31],[54.3,-3],[55,-29],[55.6,-3],[56.2,-30],[56.9,-3],[57.5,-29],[58.2,-2],[58.9,-31],[59.6,-2],[60.3,-30],[61,-2],[61.7,-29],[62.4,-1],[63.1,-30],[63.8,-1],[64.6,-29],[65.3,-1],[66.1,-30],[66.8,-1],[67.6,-29],[68.4,-1],[69.2,-28],[70,-1],[70.8,-26],[71.6,-2],[72.4,-20],[73.2,-2],[74.1,-14],[75,-2],[75.9,-10],[76.8,-3],[77.6,-12],[78.5,-3],[79.4,-16],[80.4,-3],[81.3,-20],[82.2,-4],[83.2,-24],[84.1,-4],[85.1,-20],[86.1,-2],[87.1,-12],[88.1,0],[89.1,-5],[90.2,2],[91.2,-3],[92.3,4],[93.3,0],[95.5,6],[97.7,2],[100,8],[102,4],[104,10],[106,5],[108,11],[110,6],[112,12],[114,7],[116,13],[118,8],[120,14],[122,9],[124,15],[126,10],[128,30],[130,8],[132,20],[134,6],[136,26],[138,8],[140,18],[142,10],[144,24],[146,8],[148,16],[150,10],[153.5,10],[158,5],[164,7],[168,8],[172,0],[176,-5],[180,-8],[184,-5],[192,-1],[201,0],[211,0.5],[220,1],[230,1.5],[236,2],[244,1],[252,1],[258,0],[264,-2],[270,-5],[276,-10],[283,-15],[289,-18],[295,-20],[302,-10],[309,-14],[316,-17],[324,-10],[331,-7],[346,-5],[362,-6],[375,-7],[387,-8],[400,-8],[415,-9],[430,-11],[444,-12],[454,-15],[464,-18],[470,-20],[475,-12],[485,-5],[495,10]];

// ---------- assembly ----------
const panelG = [g11, g12, g13, g21, g22, g23, g31, g32, g33];
const panelW = [w11, null, null, null, w22, null, null, null, w33];
const panelS = [s11, s12, s13, s21, s22, s23, s31, s32, s33];

const colLeft = [118, 503, 888];
const colWidth = [292, 292, 290];
const rowTop = [66, 369, 672];
const rowHeight = 217;
const axisColor = '#262626';
const textColor = '#1f1f1f';
const serif = '"Liberation Serif", "DejaVu Serif", serif';
const sans = '"DejaVu Sans", "Liberation Sans", sans-serif';
const lineColors = { G: '#ff0000', W: '#00ff00', S: '#0000ff' };

const grids = [], xAxes = [], yAxes = [], series = [];

function xLabelFormatter(v) {
  const e = Math.log10(v);
  const r = Math.round(e);
  if (Math.abs(e - r) < 1e-6 && (r === 1 || r === 2)) return '{b|10}{s|' + r + '}';
  return '';
}

for (let i = 0; i < 9; i++) {
  const r = Math.floor(i / 3), c = i % 3;
  grids.push({ left: colLeft[c], top: rowTop[r], width: colWidth[c], height: rowHeight,
    show: true, borderColor: axisColor, borderWidth: 1, backgroundColor: '#fff', containLabel: false });
  const common = { type: 'log', logBase: 10, gridIndex: i, min: freqMin, max: freqMax,
    splitLine: { show: false }, minorTick: { show: false }, minorSplitLine: { show: false },
    axisLine: { show: true, onZero: false, lineStyle: { color: axisColor, width: 1 } },
    axisTick: { show: true, inside: true, length: 5, lineStyle: { color: axisColor, width: 1 } } };
  xAxes.push(Object.assign({}, common, { position: 'bottom',
    axisLabel: { show: true, margin: 10, formatter: xLabelFormatter, showMinLabel: true, showMaxLabel: false,
      rich: { b: { fontSize: 22, fontFamily: sans, color: axisColor, lineHeight: 26, verticalAlign: 'bottom' },
              s: { fontSize: 15, fontFamily: sans, color: axisColor, lineHeight: 26, verticalAlign: 'top', padding: [0, 0, 0, 1] } } } }));
  xAxes.push(Object.assign({}, common, { position: 'top', axisLabel: { show: false } }));
  const ycommon = { type: 'value', gridIndex: i, min: dbMin, max: dbMax, interval: dbStep,
    splitLine: { show: false },
    axisLine: { show: true, onZero: false, lineStyle: { color: axisColor, width: 1 } },
    axisTick: { show: true, inside: true, length: 5, lineStyle: { color: axisColor, width: 1 } } };
  yAxes.push(Object.assign({}, ycommon, { position: 'left',
    axisLabel: { show: true, margin: 8, fontSize: 22, fontFamily: sans, color: axisColor, showMaxLabel: false,
      formatter: v => (v === dbMax ? '' : String(v)) } }));
  yAxes.push(Object.assign({}, ycommon, { position: 'right', axisLabel: { show: false } }));

  const parts = [['G', panelG[i], 'G'], ['W', panelW[i], 'W'], ['S(\u03B8)', panelS[i], 'S']];
  parts.forEach((p, k) => {
    if (!p[1]) return;
    series.push({ type: 'line', name: p[0], xAxisIndex: 2 * i, yAxisIndex: 2 * i, data: p[1],
      symbol: 'none', showSymbol: false, color: lineColors[p[2]], z: 2 + k,
      lineStyle: { color: lineColors[p[2]], width: p[2] === 'S' ? 1.6 : 1.2 },
      emphasis: { disabled: true }, silent: true, animation: false });
  });
}

const graphics = [];
for (let c = 0; c < 3; c++) {
  graphics.push({ type: 'text', x: colLeft[c] + colWidth[c] / 2, y: 31,
    style: { text: colTitles[c], font: '25px ' + serif, fill: textColor, align: 'center', verticalAlign: 'middle', lineHeight: 30 } });
}
const rowLabelX = [36, 32, 36];
for (let r = 0; r < 3; r++) {
  graphics.push({ type: 'text', x: rowLabelX[r], y: rowTop[r] + rowHeight / 2, rotation: Math.PI / 2,
    style: { text: rowLabels[r], font: '25px ' + serif, fill: textColor, align: 'center', verticalAlign: 'middle', lineHeight: 32 } });
}
graphics.push({ type: 'text', x: 35, y: 483, rotation: Math.PI / 2,
  style: { text: yLabel, font: '25px ' + serif, fill: textColor, align: 'center', verticalAlign: 'middle' } });
graphics.push({ type: 'text', x: 648, y: 957,
  style: { text: xLabel, font: '25px ' + serif, fill: textColor, align: 'center', verticalAlign: 'middle' } });

const chart = echarts.init(document.getElementById('chart'), null, { renderer: 'canvas' });
chart.setOption({
  animation: false,
  backgroundColor: '#fff',
  grid: grids,
  xAxis: xAxes,
  yAxis: yAxes,
  series: series,
  graphic: graphics,
  legend: {
    data: seriesNames, orient: 'vertical', left: 1044, top: 804,
    icon: 'rect', itemWidth: 94, itemHeight: 2, itemGap: 1,
    padding: [4, 14, 4, 9], backgroundColor: '#fff', borderColor: axisColor, borderWidth: 1,
    selectedMode: false, z: 20,
    textStyle: { fontFamily: serif, fontStyle: 'italic', fontSize: 25, color: textColor, lineHeight: 30, padding: [0, 0, 0, 2] }
  }
});
</script>
</body>
</html>
